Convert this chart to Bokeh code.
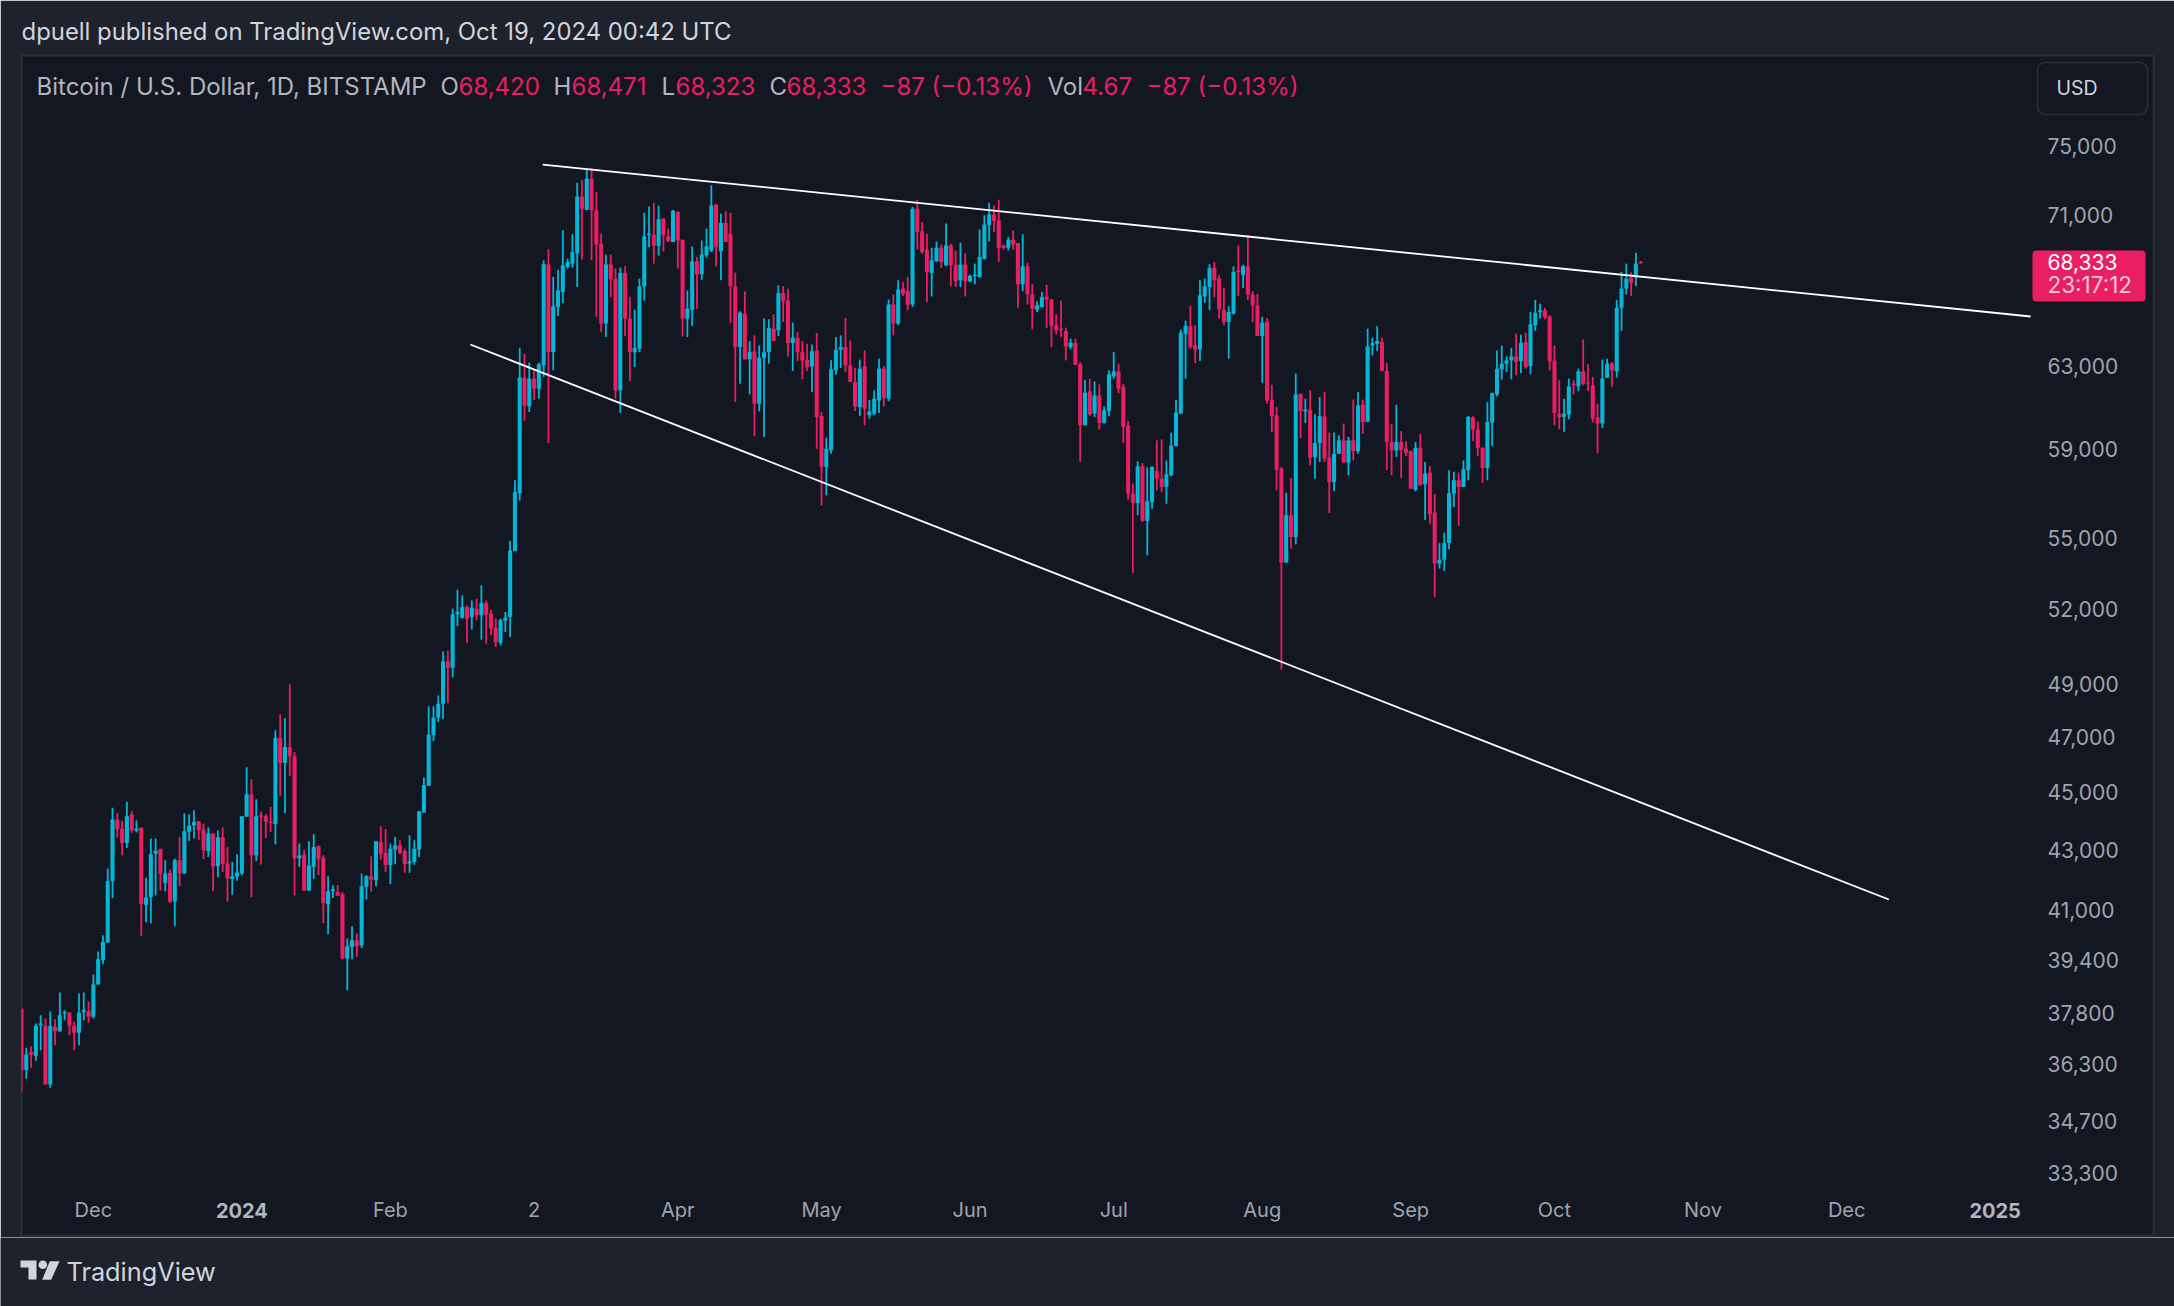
from bokeh.embed import file_html
from bokeh.layouts import column
from bokeh.resources import INLINE
from bokeh.plotting import figure
from bokeh.models import (BoxAnnotation, ColumnDataSource, FixedTicker, Label,
                          NumeralTickFormatter)

opens = [
37928,36128,36649,36535,37435,37416,35721,37386,37258,37780,
37800,37416,37209,37829,37849,37682,38657,39404,39958,41943,
44037,43725,43229,44211,43645,43748,41173,41421,42864,43021,
41887,42220,41279,42642,42198,43611,43830,43980,43691,42953,
43553,42442,43426,42531,42020,42087,42198,44130,44924,42808,
44188,44153,43968,43876,46970,46052,46633,46292,42708,42830,
41632,42420,43113,42730,41184,41610,41588,41510,39456,39819,
40032,39872,41755,42109,41976,43264,42897,42476,43010,43148,
42953,42531,42587,43010,44280,45224,47071,47731,48256,49901,
49641,51791,51643,52088,51683,52020,51750,52250,51818,51237,
50640,51521,51683,54438,56994,62436,61033,62386,61892,63046,
68283,63705,66015,66802,68140,68319,68889,72044,71294,73064,
71257,69401,65160,68283,67514,61812,67817,65416,63705,63874,
67105,69863,69900,69298,70795,69808,69494,71165,69623,65416,
65878,68443,67745,68764,69031,71572,68996,70555,69956,67105,
63959,65673,63343,63738,61159,63425,63705,64900,64815,66749,
66357,64164,64421,63705,63326,62996,63788,60574,58183,58943,
62798,63822,63959,63046,62221,61001,62996,60606,60685,61317,
62881,61400,66152,65160,66980,66855,66152,71350,70092,69068,
67817,68461,69179,68230,69308,68266,67425,68266,67372,67657,
67603,68586,70425,71017,70703,69308,69179,69623,69438,67211,
68176,66678,65878,66015,66571,66410,65075,64903,64780,63959,
64181,63095,60132,61763,60685,61565,60243,60811,62500,62749,
61977,60100,56964,56543,58213,55755,56587,57985,57651,57271,
57803,59148,60685,64643,65040,64044,63840,66571,67069,68106,
67514,65878,65245,65673,67959,67710,68176,66678,66100,64527,
65245,61350,60606,58107,53946,56003,55050,61647,60796,60875,
58639,59291,60559,58609,57499,58791,59417,58381,59417,58913,
61127,60290,64044,64130,64215,62765,59338,58943,59338,59022,
58913,57146,59069,57390,57924,56120,53904,54073,54787,56964,
57575,57268,58031,60496,59928,59069,58137,60258,61614,62848,
63128,63293,63491,63260,64215,63013,65075,65759,65844,65536,
63293,60685,60527,60653,62142,62010,62749,62191,62060,60496,
60211,62422,63128,62749,65981,66984,67571,67571,68420]

highs = [
37928,36775,36814,37484,37731,37632,37839,37612,38410,37878,
37829,37534,38379,38410,38144,38964,39681,40192,42365,44453,
44268,43991,44661,44326,44014,43760,42054,43379,43379,43044,
42642,42331,42697,43437,44257,44222,44361,43980,43899,43760,
43553,43668,43772,43090,42587,42842,44153,45896,45464,44743,
44314,44222,44476,47256,47856,47706,49004,46448,43206,42998,
43287,43530,43148,42808,42109,41810,41810,41588,40085,40480,
40245,42198,42142,42775,43287,43807,43702,43206,43437,43321,
43033,43495,43321,44326,45524,48156,48156,48576,50291,50330,
52020,52808,52569,52155,52358,52428,52990,52358,51980,51615,
51615,51885,54875,57572,63920,63623,63178,62798,63178,68497,
69120,67603,67995,70143,68586,69921,72835,72970,73605,73701,
72295,69956,68817,68817,68051,68105,68176,66535,65878,67514,
71128,71479,71683,71516,70795,70240,71294,71202,69623,66891,
69253,68675,69586,70240,72680,71627,71072,71202,71128,67834,
65793,66837,64267,64558,64045,65416,65382,65639,67158,67123,
66980,65211,64730,64267,64130,64096,64678,60764,59543,63293,
64472,64558,65450,64301,62930,63326,63788,61350,61812,63375,
62996,66410,66678,67425,67336,67603,71442,71851,70610,69956,
69179,69530,69364,70518,69401,69031,69456,68889,67728,68319,
70185,70980,71683,71535,71851,69364,69771,70129,69438,69919,
68372,67247,66323,66802,67194,66446,65639,66357,64951,64390,
64390,63211,62335,62385,62253,62105,61033,62797,63705,63128,
62137,60337,57423,58441,58365,58152,58213,59417,59465,58487,
59780,61349,64853,65315,66100,65075,67425,67514,68284,68408,
67692,67033,66049,68176,69308,68266,69900,66855,66713,65502,
65451,62080,61001,58183,57010,57678,62635,61647,61399,61812,
60653,61482,61730,59785,59785,59654,60211,59575,61364,61730,
61364,64904,64438,65023,64438,63161,60179,61112,59849,59370,
58943,59338,59733,58411,58228,56952,54787,55240,58031,57955,
57924,58487,60575,60575,60321,59101,61238,61697,63788,64044,
63491,63925,64643,64592,64699,65759,66393,66186,65981,65588,
64044,62307,61399,62389,62307,62881,64352,63095,62472,61159,
63326,63375,63211,66393,67872,68319,67837,68906,68471]

lows = [
35512,35882,36194,36393,36696,35721,35626,36844,37238,37583,
37140,36696,36844,37583,37504,37632,38657,39281,39958,41390,
43414,42808,43056,43576,43588,40171,40608,40576,41477,41632,
41610,41226,40480,41777,42198,43298,43379,43321,42675,42753,
41610,42076,42253,41279,41499,41954,42142,44130,41412,42620,
42498,43402,43611,43184,44867,44268,45584,41477,42420,41632,
41632,42020,42142,40576,40224,41390,41466,39425,38482,39435,
39507,39787,41345,41599,41777,42664,42253,41843,42509,42842,
42220,42220,42487,42753,44280,45224,46856,47568,47668,48281,
49264,51305,51615,50627,51170,51548,50762,50600,50938,50465,
50532,51075,50870,54438,56660,60337,60764,61350,61400,62468,
59290,62798,65553,66220,68048,68105,67069,68550,71257,68497,
65502,64730,64472,66535,61400,60717,64507,62270,62963,63705,
66357,69216,68319,68764,68996,69494,69494,68051,64507,64472,
65040,65930,67460,68640,68942,68176,67442,69494,65194,61238,
62138,63343,61614,59607,60795,59575,63128,64267,64524,65245,
63491,62765,63260,62353,62765,61730,59022,56441,56888,58791,
62583,62914,62716,62221,60811,60574,60131,60448,60606,60717,
61033,61285,64558,65075,66588,65844,66015,69087,68853,66272,
66571,68408,68088,68176,67105,67069,67069,66571,67336,67211,
67568,68533,69530,70055,68408,69087,69031,69087,65981,66855,
66152,64869,65758,65981,64937,63959,64610,64476,63293,63840,
63062,58411,60132,60574,60527,59927,60211,60558,62385,61680,
59295,56705,53511,56003,55711,54255,56295,57116,57040,56514,
57757,59148,60685,62385,63874,63160,63260,66237,65860,66535,
65416,65075,63375,65622,66589,67016,66393,65245,64527,62187,
61159,59812,57116,49576,53946,54539,54729,59528,60243,58259,
57640,58411,58411,56105,57086,58791,58381,57803,58487,58791,
59733,60290,63541,63755,62765,58031,57803,58639,57681,58685,
57192,57070,57344,55799,55610,52498,53693,53595,54510,56368,
55536,57268,57575,59370,58685,57451,57575,59148,61515,62340,
62716,62353,62551,62666,62881,62600,64784,65417,65382,62798,
60132,59944,59817,60416,61614,61763,62060,61779,60258,58822,
60006,62422,61977,62439,64784,66677,66592,67125,68323]

closes = [
36128,36573,36573,37416,37484,35721,37406,37258,37731,37819,
37416,37209,37810,37878,37682,38657,39435,39979,41943,44037,
43702,43229,44153,43668,43714,41184,41410,42842,42964,42187,
42198,41279,42642,42198,43633,43830,43957,43668,42975,43553,
42442,43426,42509,42031,42098,42231,44153,44924,42808,44153,
44130,43957,43922,46970,46052,46633,46292,42708,42808,41632,
42464,43090,42697,41226,41610,41677,41466,39456,39840,40032,
39840,41777,42109,41998,43287,42864,42476,43033,43148,42886,
42509,42609,43033,44326,45248,47096,47731,48256,49901,49654,
51791,51885,52088,51615,52061,51750,52250,51778,51210,50668,
51548,51656,54466,57040,62436,61080,62386,61892,63095,68283,
63705,66050,66891,68226,68408,68942,72044,71350,73064,71257,
69345,65160,68283,67478,61812,67817,65416,63705,63925,67105,
69808,69956,69298,70758,69863,69549,71220,69586,65416,65930,
68443,67745,68817,69271,71535,69216,70555,69494,67105,63959,
65725,63343,63705,61159,63425,63705,64935,64267,66749,66323,
64164,64438,63705,63293,62963,63755,60527,58183,59022,62848,
63822,63959,63046,62221,61033,62881,60922,60795,61400,62881,
61449,66152,65160,66927,66713,66135,71350,70055,68942,67870,
68497,69179,68408,69308,68230,67372,68266,67372,67657,67728,
68675,70462,71017,70666,69179,69179,69623,69364,67211,68176,
66678,65930,66100,66535,66393,65040,64815,64815,63993,64181,
63062,60132,61697,60653,61565,60243,60843,62600,62749,61895,
60053,56964,56543,58213,55755,56631,58183,57651,57271,57848,
59180,60732,64694,65040,63959,63840,66624,67105,68088,67425,
65895,65245,65758,67870,67870,68176,66678,66100,64527,65211,
61317,60574,58061,53946,56003,55050,61614,60796,60875,58609,
59291,60559,58563,57499,58791,59417,58381,59417,58913,61080,
60290,63993,64164,64267,62765,59338,58943,59338,58973,58837,
57192,59069,57344,57879,56047,53904,54073,54787,56996,57575,
57268,58077,60527,59928,59069,58137,60290,61680,62881,63128,
63293,63491,63211,64181,62963,65126,65724,65844,65468,63244,
60717,60527,60685,62010,62060,62749,62142,62142,60448,60211,
62389,63128,62798,65981,66984,67518,67286,68319,68333]

price_ticks = [75000, 71000, 63000, 59000, 55000, 52000, 49000, 47000, 45000,
               43000, 41000, 39400, 37800, 36300, 34700, 33300]
month_ticks = [15, 77, 107, 137, 167, 198, 228, 259, 290, 320, 351, 381]
month_labels = ["Dec", "Feb", "2", "Apr", "May", "Jun", "Jul", "Aug", "Sep", "Oct", "Nov", "Dec"]
year_ticks = [46, 412]
year_labels = ["2024", "2025"]

upper_x, upper_y = [108.8, 419.4], [73883, 65525]
lower_x, lower_y = [93.7, 389.8], [64090, 41340]

PAGE, PANEL, EDGE = "#1e222d", "#131722", "#2a2e39"
BLUE, RED = "#06b6d6", "#e91e63"
FONT = "Inter"
TICK = "#a0a3ac"
INK = "#d1d4dc"

n = len(opens)
source = ColumnDataSource(dict(
    day=list(range(n)), o=opens, h=highs, l=lows, c=closes,
    top=[max(a, b) for a, b in zip(opens, closes)],
    bot=[min(a, b) for a, b in zip(opens, closes)],
    color=[RED if c < o else BLUE for o, c in zip(opens, closes)],
))

Y_LOW, Y_HIGH = 31703, 80530
p = figure(width=2174, height=1237, output_backend="svg", toolbar_location=None,
           x_range=(0, 445.05), y_range=(Y_LOW, Y_HIGH), y_axis_type="log", y_axis_location="right",
           min_border_left=21, min_border_top=55, min_border_right=21, min_border_bottom=2,
           frame_width=2132, frame_height=1180, frame_align=False,
           background_fill_color=PANEL, border_fill_color=PAGE,
           outline_line_color=EDGE, outline_line_width=2)
p.grid.visible = False


def box(l, r, t, b, **kw):
    p.add_layout(BoxAnnotation(left=l, right=r, top=t, bottom=b, left_units="canvas", right_units="canvas",
                               top_units="canvas", bottom_units="canvas", **kw))


p.segment("day", "l", "day", "h", source=source, line_color="color", line_width=1.8)
p.vbar(x="day", top="top", bottom="bot", width=0.85, source=source, fill_color="color", line_color="color", line_width=0)
p.line(upper_x, upper_y, line_color="white", line_width=1.8)
p.line(lower_x, lower_y, line_color="white", line_width=1.8)

ya = p.yaxis[0]
ya.ticker = FixedTicker(ticks=price_ticks)
ya.formatter = NumeralTickFormatter(format="0,0")
ya.axis_line_color = None
ya.major_tick_line_color = None
ya.minor_tick_line_color = None
ya.major_label_text_color = TICK
ya.major_label_text_font = FONT
ya.major_label_text_font_size = "21px"
ya.major_label_standoff = -112

xa = p.xaxis[0]
xa.ticker = FixedTicker(ticks=month_ticks)
xa.major_label_overrides = dict(zip(month_ticks, month_labels))
xa.axis_line_color = None
xa.major_tick_line_color = None
xa.minor_tick_line_color = None
xa.major_label_text_color = TICK
xa.major_label_text_font = FONT
xa.major_label_text_font_size = "20px"
xa.major_label_standoff = -44


def text(x, y, s, color, size="24px", style="normal", side="center", **kw):
    p.add_layout(Label(x=x, y=y, x_units=kw.pop("x_units", "canvas"), y_units="canvas", text=s, text_color=color,
                       text_font=FONT, text_font_size=size, text_font_style=style,
                       text_baseline="middle", **kw), side)


for tick, lab in zip(year_ticks, year_labels):
    text(tick, 1210, lab, "#b2b5be", "20px", "bold", x_units="data", text_align="center")

text(21, 30.5, "dpuell published on TradingView.com, Oct 19, 2024 00:42 UTC", INK, "23.9px", side="above")
HEAD = "#b2b5be"
for x, s, col in [(36, "Bitcoin / U.S. Dollar, 1D, BITSTAMP", HEAD), (440, "O", HEAD), (458, "68,420", RED),
                  (553, "H", HEAD), (571, "68,471", RED), (661, "L", HEAD), (675, "68,323", RED),
                  (769, "C", HEAD), (786, "68,333", RED), (880, "\u221287 (\u22120.13%)", RED),
                  (1047, "Vol", HEAD), (1082, "4.67", RED), (1146, "\u221287 (\u22120.13%)", RED)]:
    text(x, 85.5, s, col, "24px")

box(2037, 2147, 62, 114, fill_alpha=0, line_color=EDGE, line_width=1.5, line_alpha=1, border_radius=8)
text(2056, 87.5, "USD", INK, "19.5px")

box(2032, 2145, 250, 301, fill_color=RED, fill_alpha=1, line_color=None, border_radius=4)
text(2047, 261, "68,333", "#ffffff", "21px")
text(2047, 284, "23:17:12", "#fbc8d9", "22.5px")

# footer strip: a second figure whose scales are the strip's own pixels
footer = figure(width=2174, height=69, output_backend="svg", toolbar_location=None,
                x_range=(0, 2174), y_range=(1306, 1237), x_axis_location=None, y_axis_location=None,
                min_border=0, frame_align=False, background_fill_color=PAGE, border_fill_color=PAGE,
                outline_line_color=None)
footer.grid.visible = False
footer.patch([20, 36, 36, 28, 28, 20], [1260, 1260, 1279, 1279, 1267, 1267], color=INK, line_width=0)
footer.patch([49.3, 59, 50.7, 41.7], [1260.7, 1260.7, 1279.3, 1279.3], color=INK, line_width=0)
footer.circle(x=[42.3], y=[1264.3], radius=4.3, color=INK, line_width=0)
footer.add_layout(Label(x=66, y=1271, text="TradingView", text_color=INK, text_font=FONT,
                        text_font_size="25.3px", text_baseline="middle"))

html = file_html(column(p, footer, spacing=0), INLINE)
html = html.replace("<body>", f'<body style="background:{PAGE};margin:0;overflow:hidden">', 1)
open("out.html", "w").write(html)
